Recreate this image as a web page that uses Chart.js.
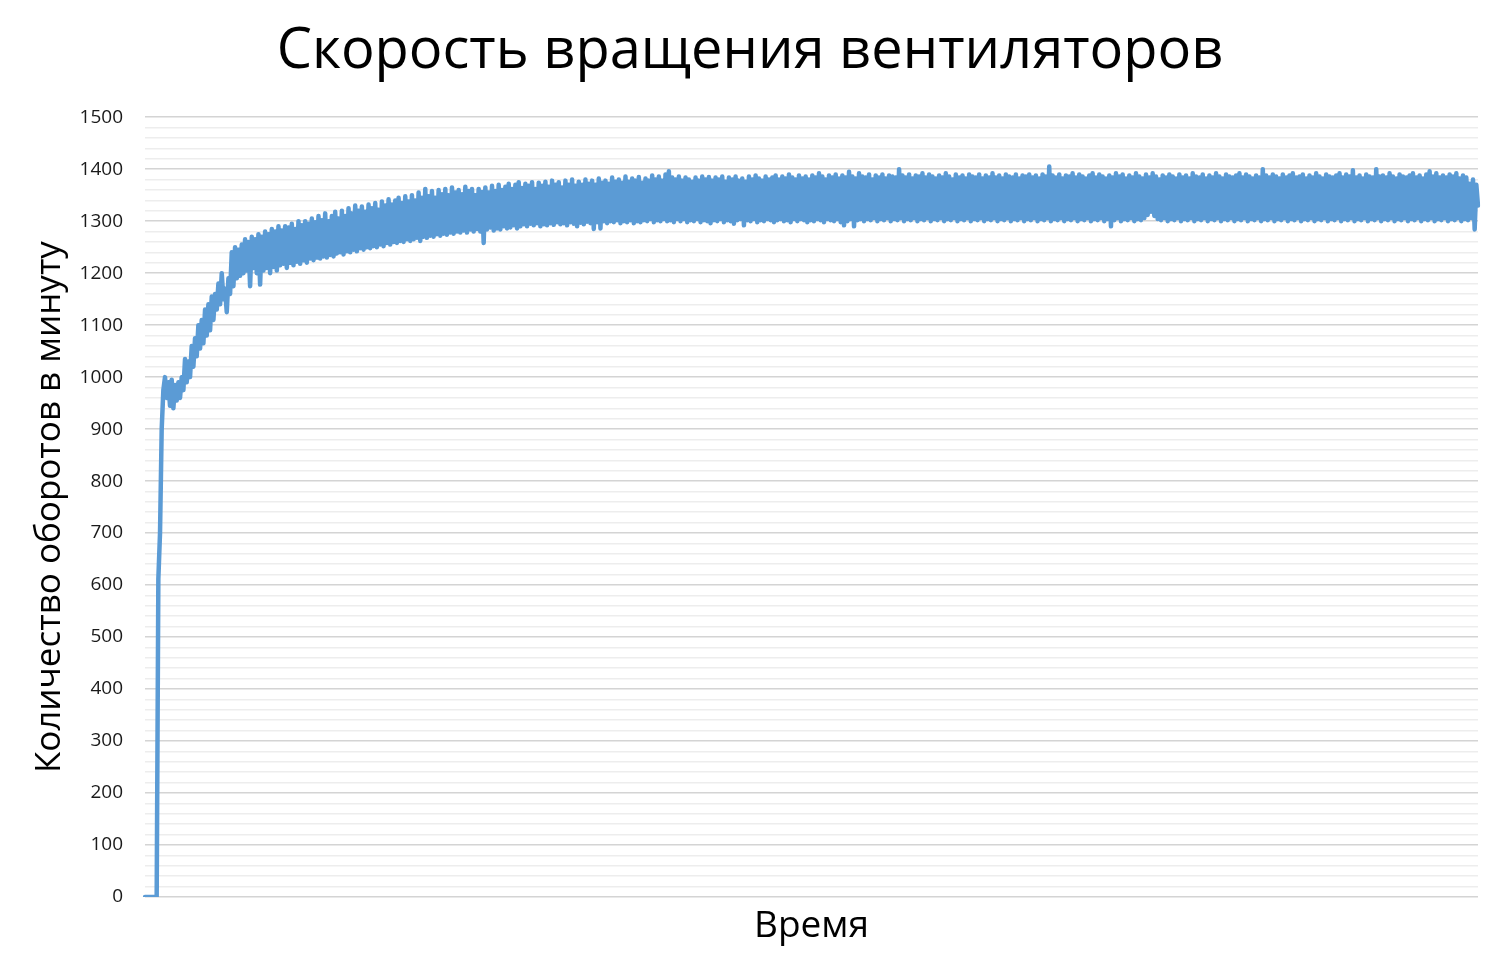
<!DOCTYPE html>
<html>
<head>
<meta charset="utf-8">
<title>Скорость вращения вентиляторов</title>
<script src="https://cdn.jsdelivr.net/npm/chart.js@4.4.1/dist/chart.umd.min.js"></script>
<style>
  html, body { margin: 0; padding: 0; background: #ffffff; }
  #wrap { width: 1500px; height: 975px; }
</style>
</head>
<body>
<div id="wrap"><canvas id="chart" width="1500" height="975"></canvas></div>
<script>
"use strict";
// fan speed readings (rpm), one value per sample
const rpm = [
  0, 0, 0, 0, 0, 0, 0, 0, 612, 700,
  900, 975, 1000, 960, 990, 945, 995, 940, 985, 955,
  990, 960, 1000, 975, 1035, 990, 1030, 1000, 1060, 1020,
  1075, 1040, 1100, 1055, 1110, 1065, 1130, 1080, 1140, 1090,
  1155, 1110, 1160, 1130, 1180, 1140, 1200, 1150, 1170, 1125,
  1190, 1160, 1240, 1175, 1250, 1190, 1245, 1195, 1255, 1200,
  1265, 1205, 1260, 1175, 1270, 1210, 1265, 1200, 1275, 1178,
  1270, 1205, 1280, 1210, 1275, 1200, 1285, 1212, 1280, 1205,
  1290, 1215, 1282, 1218, 1290, 1210, 1288, 1220, 1295, 1215,
  1285, 1222, 1300, 1218, 1292, 1225, 1300, 1220, 1295, 1228,
  1305, 1225, 1298, 1230, 1310, 1228, 1302, 1232, 1315, 1230,
  1300, 1235, 1310, 1232, 1318, 1238, 1305, 1240, 1320, 1236,
  1310, 1242, 1325, 1240, 1315, 1245, 1330, 1242, 1320, 1248,
  1328, 1245, 1318, 1250, 1332, 1248, 1325, 1252, 1335, 1250,
  1322, 1255, 1338, 1252, 1330, 1258, 1342, 1255, 1332, 1260,
  1340, 1258, 1345, 1262, 1335, 1260, 1348, 1265, 1338, 1262,
  1350, 1265, 1340, 1268, 1355, 1262, 1345, 1270, 1362, 1268,
  1348, 1272, 1358, 1270, 1345, 1275, 1360, 1272, 1352, 1276,
  1362, 1274, 1350, 1278, 1365, 1276, 1355, 1280, 1360, 1278,
  1352, 1282, 1366, 1278, 1358, 1284, 1362, 1280, 1350, 1285,
  1362, 1280, 1356, 1258, 1365, 1284, 1355, 1288, 1368, 1282,
  1358, 1286, 1370, 1284, 1360, 1290, 1366, 1286, 1372, 1288,
  1362, 1292, 1370, 1286, 1375, 1290, 1364, 1294, 1372, 1290,
  1368, 1295, 1375, 1292, 1362, 1296, 1374, 1290, 1368, 1294,
  1376, 1292, 1366, 1296, 1378, 1293, 1370, 1298, 1375, 1294,
  1365, 1296, 1378, 1292, 1370, 1298, 1380, 1295, 1368, 1290,
  1376, 1297, 1370, 1294, 1380, 1299, 1372, 1296, 1378, 1285,
  1370, 1298, 1382, 1286, 1374, 1300, 1378, 1296, 1372, 1300,
  1384, 1298, 1376, 1302, 1380, 1296, 1374, 1300, 1386, 1298,
  1376, 1302, 1382, 1296, 1378, 1300, 1385, 1298, 1374, 1302,
  1382, 1300, 1378, 1304, 1388, 1298, 1380, 1302, 1386, 1300,
  1378, 1304, 1390, 1300, 1396, 1302, 1384, 1298, 1380, 1304,
  1386, 1300, 1378, 1304, 1384, 1298, 1380, 1302, 1376, 1300,
  1384, 1304, 1378, 1298, 1386, 1302, 1380, 1300, 1385, 1296,
  1378, 1302, 1384, 1300, 1380, 1304, 1386, 1298, 1376, 1302,
  1384, 1300, 1380, 1295, 1386, 1302, 1378, 1304, 1382, 1292,
  1376, 1302, 1386, 1300, 1380, 1304, 1388, 1298, 1382, 1302,
  1378, 1300, 1386, 1304, 1380, 1302, 1384, 1298, 1388, 1302,
  1380, 1304, 1386, 1300, 1382, 1302, 1390, 1298, 1384, 1304,
  1380, 1300, 1388, 1304, 1382, 1302, 1386, 1298, 1380, 1302,
  1388, 1300, 1384, 1304, 1392, 1302, 1386, 1298, 1380, 1304,
  1388, 1302, 1384, 1300, 1390, 1304, 1382, 1298, 1388, 1292,
  1384, 1300, 1395, 1304, 1386, 1290, 1382, 1302, 1392, 1304,
  1386, 1300, 1384, 1304, 1390, 1302, 1380, 1306, 1388, 1300,
  1384, 1304, 1390, 1302, 1382, 1306, 1388, 1300, 1386, 1304,
  1384, 1302, 1400, 1306, 1388, 1300, 1384, 1304, 1390, 1302,
  1382, 1306, 1388, 1300, 1386, 1304, 1392, 1302, 1384, 1306,
  1390, 1300, 1386, 1304, 1382, 1302, 1388, 1306, 1384, 1300,
  1392, 1304, 1386, 1302, 1380, 1306, 1390, 1300, 1384, 1304,
  1388, 1302, 1382, 1306, 1390, 1300, 1386, 1304, 1384, 1302,
  1390, 1306, 1382, 1300, 1388, 1304, 1384, 1302, 1392, 1306,
  1384, 1300, 1388, 1304, 1382, 1302, 1390, 1306, 1386, 1300,
  1384, 1304, 1390, 1302, 1382, 1306, 1388, 1300, 1386, 1304,
  1390, 1302, 1384, 1306, 1388, 1300, 1382, 1304, 1390, 1302,
  1386, 1306, 1405, 1300, 1388, 1304, 1384, 1302, 1390, 1306,
  1382, 1300, 1388, 1304, 1386, 1302, 1392, 1306, 1384, 1300,
  1390, 1304, 1386, 1302, 1382, 1306, 1388, 1300, 1392, 1304,
  1384, 1302, 1390, 1306, 1386, 1300, 1382, 1304, 1388, 1290,
  1384, 1302, 1392, 1306, 1386, 1300, 1390, 1304, 1382, 1302,
  1388, 1306, 1384, 1300, 1392, 1304, 1386, 1302, 1382, 1306,
  1390, 1312, 1384, 1318, 1392, 1310, 1386, 1304, 1380, 1302,
  1388, 1306, 1384, 1300, 1390, 1304, 1386, 1302, 1382, 1306,
  1390, 1300, 1384, 1304, 1388, 1302, 1382, 1306, 1392, 1300,
  1386, 1304, 1384, 1302, 1390, 1306, 1382, 1300, 1388, 1304,
  1384, 1302, 1392, 1306, 1386, 1300, 1382, 1304, 1390, 1302,
  1386, 1306, 1384, 1300, 1388, 1304, 1392, 1302, 1384, 1306,
  1390, 1300, 1386, 1304, 1382, 1302, 1388, 1306, 1384, 1300,
  1400, 1304, 1388, 1302, 1384, 1306, 1390, 1300, 1386, 1304,
  1382, 1302, 1390, 1306, 1384, 1300, 1388, 1304, 1392, 1302,
  1384, 1306, 1386, 1300, 1390, 1304, 1382, 1302, 1388, 1306,
  1384, 1300, 1392, 1304, 1386, 1302, 1382, 1306, 1390, 1300,
  1386, 1304, 1384, 1302, 1388, 1306, 1392, 1300, 1384, 1304,
  1390, 1302, 1386, 1306, 1398, 1300, 1384, 1304, 1388, 1302,
  1382, 1306, 1390, 1300, 1386, 1304, 1384, 1302, 1400, 1306,
  1386, 1300, 1388, 1304, 1384, 1302, 1392, 1306, 1386, 1300,
  1382, 1304, 1390, 1302, 1386, 1306, 1384, 1300, 1388, 1304,
  1392, 1302, 1384, 1306, 1388, 1300, 1382, 1304, 1390, 1302,
  1396, 1306, 1386, 1300, 1392, 1304, 1384, 1302, 1388, 1306,
  1384, 1300, 1390, 1304, 1386, 1302, 1392, 1306, 1382, 1300,
  1388, 1304, 1384, 1302, 1372, 1306, 1380, 1284, 1370, 1330
];
// sample numbers along the time axis
const samples = rpm.map((v, i) => i);
// y axis range and label step
const yMin = 0;
const yMax = 1500;
const yLabelStep = 100;
const yGridStep = 20;

const titleText = "Скорость вращения вентиляторов";
const yTitle = "Количество оборотов в минуту";
const xTitle = "Время";

const FONT = "'Open Sans', 'Noto Sans', sans-serif";

const canvas = document.getElementById("chart");
const ctx = canvas.getContext("2d");

const config = {
  type: "line",
  data: {
    labels: samples,
    datasets: [{
      label: "rpm",
      data: rpm,
      borderColor: "#5b9bd5",
      borderWidth: 4.5,
      pointRadius: 0,
      tension: 0,
      fill: false,
      borderJoinStyle: "round",
      borderCapStyle: "round"
    }]
  },
  options: {
    responsive: false,
    animation: false,
    events: [],
    layout: { padding: { left: 22, right: 22, top: 0, bottom: 0 } },
    plugins: {
      legend: { display: false },
      tooltip: { enabled: false },
      title: {
        display: true,
        text: titleText,
        color: "#000000",
        font: { family: FONT, size: 56, weight: "normal" },
        padding: { top: 18, bottom: 32 }
      }
    },
    scales: {
      x: {
        type: "category",
        offset: false,
        grid: { display: false },
        border: { display: false },
        ticks: { display: false },
        title: {
          display: true,
          text: xTitle,
          color: "#000000",
          font: { family: FONT, size: 37, weight: "normal" },
          padding: { top: 0, bottom: 26 }
        },
        afterFit: (scale) => { scale.height = 78; }
      },
      y: {
        min: yMin,
        max: yMax,
        border: { display: false },
        grid: {
          drawTicks: false,
          color: (c) => (c.tick && c.tick.value % yLabelStep === 0) ? "#d4d4d4" : "#ededed",
          lineWidth: 1.6
        },
        ticks: {
          stepSize: yGridStep,
          autoSkip: false,
          padding: 22,
          color: "#1a1a1a",
          font: { family: FONT, size: 19 },
          callback: (v) => (v % yLabelStep === 0 ? String(v) : "")
        },
        title: {
          display: true,
          text: yTitle,
          color: "#000000",
          font: { family: FONT, size: 35, weight: "normal" },
          padding: { top: 7, bottom: 0 }
        },
        afterFit: (scale) => { scale.width = 123; }
      }
    }
  }
};

const chart = new Chart(ctx, config);
console.log("chart area", JSON.stringify(chart.chartArea));
</script>
</body>
</html>
